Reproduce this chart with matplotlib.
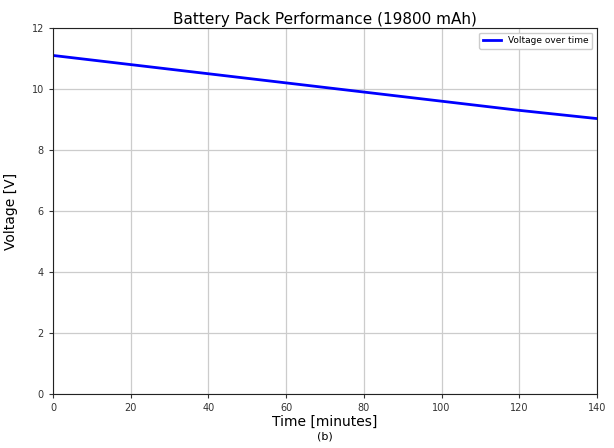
import matplotlib.pyplot as plt

time_min = [0, 20, 40, 60, 80, 100, 120, 140]
voltage = [11.1, 10.8, 10.5, 10.2, 9.9, 9.6, 9.3, 9.03]

x_ticks = [0, 20, 40, 60, 80, 100, 120, 140]
y_ticks = [0, 2, 4, 6, 8, 10, 12]

fig = plt.figure(figsize=(6.14, 4.48), dpi=100)
ax = fig.add_axes([53 / 614, 1 - 394 / 448, 544 / 614, 366 / 448])

ax.plot(time_min, voltage, color="blue", linewidth=2, label="Voltage over time")

ax.set_xlim(0, 140)
ax.set_ylim(0, 12)
ax.set_xticks(x_ticks)
ax.set_yticks(y_ticks)
ax.tick_params(labelsize=7, length=3, colors="#333333")
ax.grid(True, color="#cccccc", linewidth=0.9)

ax.set_title("Battery Pack Performance (19800 mAh)", fontsize=11, pad=3)
ax.set_xlabel("Time [minutes]", fontsize=10, labelpad=1)
ax.text(0.5, -0.103, "(b)", transform=ax.transAxes, ha="center", va="top", fontsize=8)
ax.set_ylabel("Voltage [V]", fontsize=10, labelpad=10)
ax.legend(loc="upper right", fontsize=6.5, handlelength=2, framealpha=1)

for s in ax.spines.values():
    s.set_color("#222222")

fig.savefig("out.png", dpi=100)
